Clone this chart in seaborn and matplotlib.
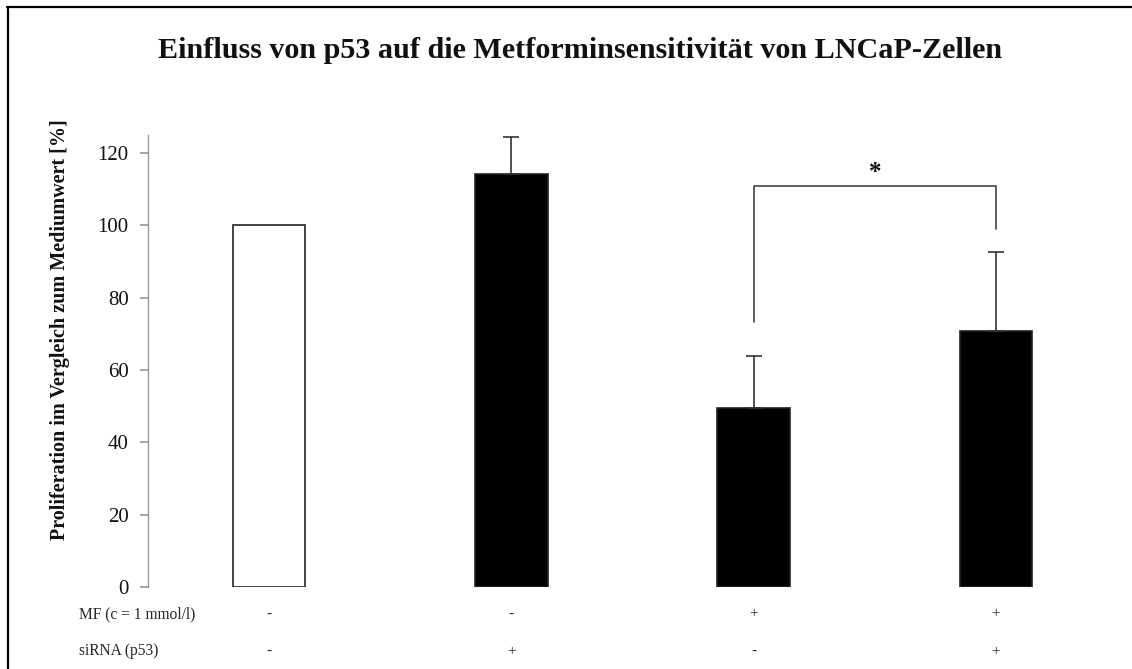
import numpy as np
import pandas as pd
import seaborn as sns
import matplotlib
matplotlib.use("Agg")
import matplotlib.pyplot as plt
from matplotlib.lines import Line2D

groups = ["ctrl", "si", "mf", "mf_si"]
values = [100, 114.2, 49.6, 70.7]
errors = [0, 10.3, 14.4, 21.9]
colors = ["white", "black", "black", "black"]
mf_signs = ["-", "-", "+", "+"]
sirna_signs = ["-", "+", "-", "+"]
row_labels = ["MF (c = 1 mmol/l)", "siRNA (p53)"]
title = "Einfluss von p53 auf die Metforminsensitivität von LNCaP-Zellen"
ylabel = "Proliferation im Vergleich zum Mediumwert [%]"

sns.set_theme(style="white")
plt.rcParams["font.family"] = ["Liberation Serif", "DejaVu Serif"]

df = pd.DataFrame({"group": groups, "value": values})

fig = plt.figure(figsize=(11.32, 6.69), dpi=100)
ax = fig.add_axes([148 / 1132, 82 / 669, (1117 - 148) / 1132, 452 / 669])

sns.barplot(data=df, x="group", y="value", hue="group", palette=colors,
            width=0.3, edgecolor="#222222", linewidth=1.2, errorbar=None,
            legend=False, ax=ax)

# upper error bars only
xs = np.arange(len(groups))
for x, v, e in zip(xs, values, errors):
    if e > 0:
        ax.errorbar(x, v, yerr=[[0], [e]], fmt="none", ecolor="#333333",
                    elinewidth=1.2, capsize=6, capthick=1.2)

ax.set_xlim(-0.5, 3.5)
ax.set_ylim(0, 125)
ax.set_yticks(np.arange(0, 121, 20))
ax.tick_params(axis="y", which="both", left=True, length=6, color="#999999",
               labelsize=15, pad=8, labelcolor="#111111")
ax.set_xticks([])
ax.set_xlabel("")
ax.set_ylabel(ylabel, fontsize=14.5, fontweight="bold", color="#111111")
ax.yaxis.set_label_coords(-0.081, 0.57)
for s in ["top", "right", "bottom"]:
    ax.spines[s].set_visible(False)
ax.spines["left"].set_color("#999999")
ax.spines["left"].set_linewidth(1)

# significance bracket
ax.plot([2, 2, 3, 3], [73.2, 111, 111, 99], color="#444444", lw=1.2,
        clip_on=False)
ax.text(2.5, 114.6, "*", ha="center", va="center", fontsize=18,
        fontweight="bold", color="#111111", clip_on=False)

# condition table below the bars
trans = ax.get_xaxis_transform()
for x, a, b in zip(xs, mf_signs, sirna_signs):
    ax.text(x, -0.06, a, transform=trans, ha="center", va="center", fontsize=11)
    ax.text(x, -0.142, b, transform=trans, ha="center", va="center", fontsize=11)
fig.text(79 / 1132, 1 - 614 / 669, row_labels[0], ha="left", va="center", fontsize=11.2)
fig.text(79 / 1132, 1 - 651 / 669, row_labels[1], ha="left", va="center", fontsize=11.2)

fig.text(580 / 1132, 1 - 50 / 669, title, ha="center", va="center", fontsize=21.7,
         fontweight="bold", color="#111111")

# outer frame (top and left edges)
fig.add_artist(Line2D([7 / 1132, 1.0], [1 - 6.5 / 669, 1 - 6.5 / 669],
                      transform=fig.transFigure, color="black", lw=1.6))
fig.add_artist(Line2D([7.5 / 1132, 7.5 / 1132], [0, 1 - 6.5 / 669],
                      transform=fig.transFigure, color="black", lw=1.6))

fig.savefig("out.png", dpi=100, facecolor="white")
